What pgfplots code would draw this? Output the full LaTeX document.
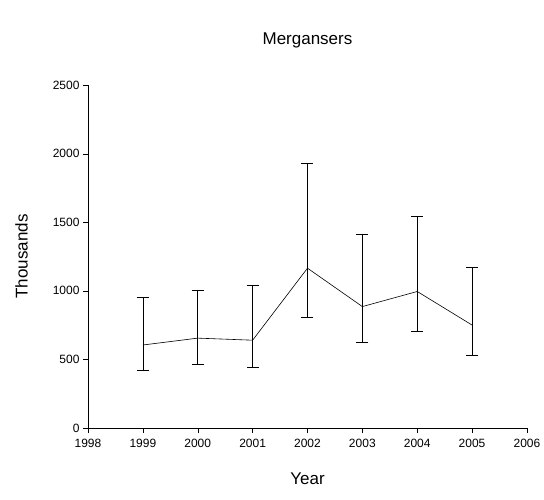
\documentclass[border=0pt]{standalone}
\usepackage{pgfplots}
\pgfplotsset{compat=1.18}
\usepackage{fontspec}
\setmainfont{Liberation Sans}
\begin{document}
\begin{tikzpicture}
\path[use as bounding box] (-88pt,-71pt) rectangle (456pt,428pt);
\begin{axis}[
  scale only axis, width=439pt, height=343pt,
  at={(0,0)},
  xmin=1998, xmax=2006, ymin=0, ymax=2500,
  axis x line*=bottom, axis y line*=left,
  xtick={1998,...,2006}, ytick={0,500,...,2500},
  tick align=outside, tick style={black}, major tick length=5pt,
  /pgf/number format/1000 sep={},
  /pgf/number format/assume math mode=true,
  xticklabel style={font=\fontsize{12}{14}\selectfont, yshift=-3pt},
  yticklabel style={font=\fontsize{12}{14}\selectfont},
  xlabel={Year}, ylabel={Thousands},
  label style={font=\fontsize{17}{19}\selectfont},
  xlabel style={yshift=-18pt}, ylabel style={yshift=18pt},
  title={Mergansers}, title style={font=\fontsize{17}{20}\selectfont, yshift=27pt},
]
\addplot[black, semithick, no markers, error bars/.cd, y dir=both, y explicit, error bar style={black, semithick}, error mark options={rotate=90, mark size=6pt}]
coordinates {
(1999,605) += (0,345) -= (0,182)
(2000,655) += (0,350) -= (0,190)
(2001,640) += (0,400) -= (0,195)
(2002,1165) += (0,765) -= (0,360)
(2003,885) += (0,530) -= (0,260)
(2004,995) += (0,550) -= (0,290)
(2005,750) += (0,420) -= (0,220)
};
\end{axis}
\end{tikzpicture}
\end{document}
